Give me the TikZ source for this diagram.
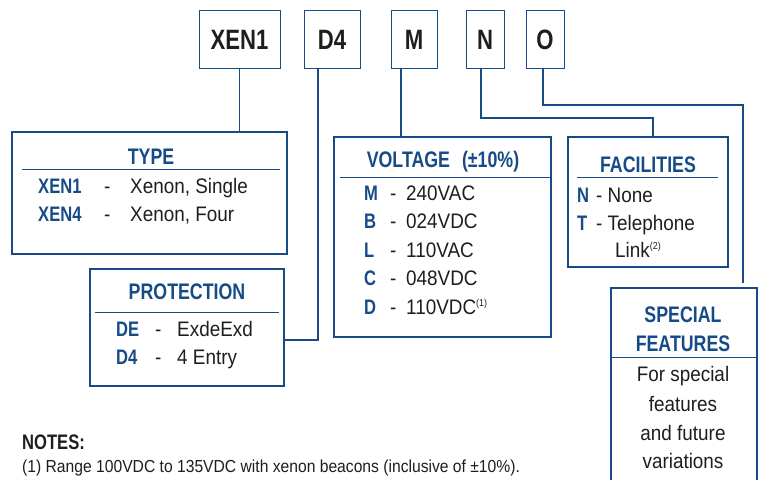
\documentclass[tikz,border=0pt]{standalone}
\usepackage{fontspec}
\setmainfont{Liberation Sans}[FakeStretch=0.9,BoldFeatures={FakeStretch=0.79}]
\usetikzlibrary{positioning}
\definecolor{specblue}{RGB}{22,75,135}
\definecolor{ink}{RGB}{30,30,30}
\newcommand{\fsz}[1]{\fontsize{#1}{#1}\selectfont}
\begin{document}
\begin{tikzpicture}[x=1pt,y=-1pt,
  code/.style={draw=specblue, line width=1pt, inner sep=0pt, outer sep=0pt},
  grp/.style={draw=specblue, line width=2pt, inner sep=0pt, outer sep=0pt},
  wire/.style={draw=specblue, line width=1.8pt},
  rule/.style={draw=specblue, line width=1pt},
  codetxt/.style={font=\bfseries\fsz{28}, text=ink, inner sep=0pt, anchor=base},
  title/.style={font=\bfseries\fsz{22.5}, text=specblue, inner sep=0pt, anchor=base},
  key/.style={font=\bfseries\fsz{21}, text=specblue, inner sep=0pt, anchor=base west},
  val/.style={font=\fsz{21}, text=ink, inner sep=0pt, anchor=base west}]
\useasboundingbox (0,0) rectangle (762,479);

% code boxes
\node[code, minimum width=81pt, minimum height=58pt] (xen) at (239.5,39) {};
\node[code, minimum width=56pt, minimum height=58pt] (dfour) at (332,39) {};
\node[code, minimum width=46pt, minimum height=58pt] (mcode) at (414,39) {};
\node[code, minimum width=38pt, minimum height=58pt] (ncode) at (485,39) {};
\node[code, minimum width=38pt, minimum height=58pt] (ocode) at (545,39) {};
\node[codetxt] (xentxt) at (239.5,49) {XEN1};
\node[codetxt] (dfourtxt) at (332,49) {D4};
\node[codetxt] (mtxt) at (414,49) {M};
\node[codetxt] (ntxt) at (485,49) {N};
\node[codetxt] (otxt) at (545,49) {O};

% option boxes
\node[grp, minimum width=275pt, minimum height=122pt] (type) at (149.5,193) {};
\node[grp, minimum width=194pt, minimum height=117pt] (prot) at (187,327.5) {};
\node[grp, minimum width=217pt, minimum height=200pt] (volt) at (442.5,237) {};
\node[grp, minimum width=160pt, minimum height=130pt] (fac) at (648,202) {};
\node[grp, minimum width=146pt, minimum height=220pt] (spec) at (684,398) {};

% connectors
\coordinate (d0) at ([xshift=-14pt]dfour.south);
\coordinate (m0) at ([xshift=-13pt]mcode.south);
\coordinate (n0) at ([xshift=-4pt]ncode.south);
\coordinate (o0) at ([xshift=-2pt]ocode.south);
\coordinate (nbend) at (653,118);
\coordinate (obend) at (743,105);
\draw[wire] (xen.south) -- (xen.south |- type.north);
\draw[wire] (d0) |- ([yshift=-12.5pt]prot.east);
\draw[wire] (m0) -- (m0 |- volt.north);
\draw[wire] (n0) |- (nbend) -- (nbend |- fac.north);
\draw[wire] (o0) |- (obend) -- ([yshift=5pt]obend |- spec.north);

% TYPE
\node[title] (typet) at (151,164) {TYPE};
\draw[rule] (22,169) -- (280,169);
\node[key] (tk1) at (38,193) {XEN1};
\node[val] (td1) at (104,193) {-};
\node[val] (tv1) at (130,193) {Xenon, Single};
\node[key] (tk2) at (38,221) {XEN4};
\node[val] (td2) at (104,221) {-};
\node[val] (tv2) at (130,221) {Xenon, Four};

% PROTECTION
\node[title] (prott) at (187,299) {PROTECTION};
\draw[rule] (95,312) -- (279,312);
\node[key] (pk1) at (116,336) {DE};
\node[val] (pd1) at (155,336) {-};
\node[val] (pv1) at (177,336) {ExdeExd};
\node[key] (pk2) at (116,364) {D4};
\node[val] (pd2) at (155,364) {-};
\node[val] (pv2) at (177,364) {4 Entry};

% VOLTAGE
\node[title] (voltt) at (443,167) {VOLTAGE\hspace{12pt}(\textpm10\%)};
\draw[rule] (340,177) -- (551,177);
\foreach \k/\v [count=\i] in {M/240VAC, B/024VDC, L/110VAC, C/048VDC, D/{110VDC\textsuperscript{\fsz{10}(1)}}}{
  \node[key] (vk\i) at (364,{200+28.5*(\i-1)}) {\k};
  \node[val] (vd\i) at (390,{200+28.5*(\i-1)}) {-};
  \node[val] (vv\i) at (406,{200+28.5*(\i-1)}) {\v};
}

% FACILITIES
\node[title] (fact) at (648,172) {FACILITIES};
\draw[rule] (577,177) -- (718,177);
\node[key] (fk1) at (577,202) {N};
\node[val] (fv1) at (596,202) {- None};
\node[key] (fk2) at (577,230) {T};
\node[val] (fv2) at (596,230) {- Telephone};
\node[val] (fv3) at (615,257) {Link\textsuperscript{\fsz{10}(2)}};

% SPECIAL FEATURES
\node[title] (spect1) at (683,322) {SPECIAL};
\node[title] (spect2) at (683,351) {FEATURES};
\draw[rule] (spec.west |- 0,357) -- (spec.east |- 0,357);
\node[val, anchor=base] (sv1) at (683,381) {For special};
\node[val, anchor=base] (sv2) at (683,411) {features};
\node[val, anchor=base] (sv3) at (683,440) {and future};
\node[val, anchor=base] (sv4) at (683,468) {variations};

% notes
\node[font=\bfseries\fsz{21}, text=ink, inner sep=0pt, anchor=base west] (notes) at (22,449) {NOTES:};
\node[font=\fsz{17.4}, text=ink, inner sep=0pt, anchor=base west] (note1) at (22,472) {(1) Range 100VDC to 135VDC with xenon beacons (inclusive of \textpm10\%).};
\end{tikzpicture}
\end{document}
